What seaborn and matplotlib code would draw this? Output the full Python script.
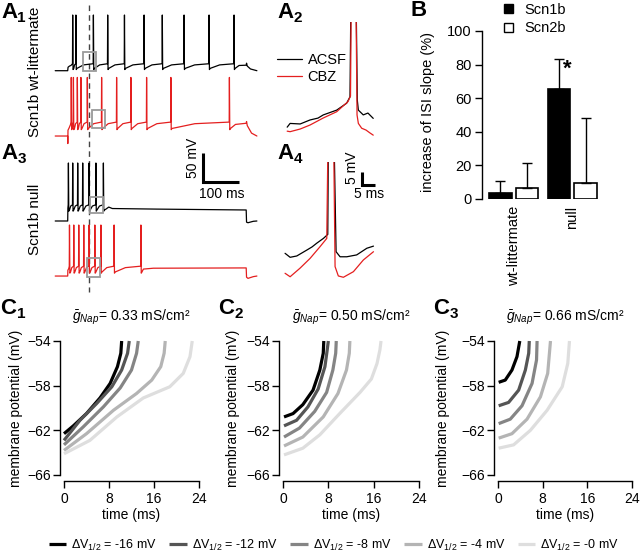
import numpy as np
import pandas as pd
import matplotlib
matplotlib.use("Agg")
import matplotlib.pyplot as plt
import seaborn as sns
from matplotlib.patches import Rectangle, Patch

# ---------------- data ----------------
# A1 / A3: spike times (ms after step onset) of the 500 ms current step
SPK_WT_ACSF = [14, 23, 72, 112, 159, 214, 265, 326, 396, 466]
SPK_WT_CBZ = [10, 16, 27, 37, 55, 95, 137, 177, 221, 289, 453]
SPK_NULL_ACSF = [2, 14, 28, 42, 60, 79, 100]
SPK_NULL_CBZ = [5, 17, 31, 45, 60, 76, 93, 130, 205]

# voltage levels (mV): rest, after-hyperpolarisation, threshold, peak
LEV_WT_ACSF = [-70, -66, -58, 26]
LEV_WT_CBZ = [-70, -57, -46, 31]
LEV_NULL_ACSF = [-70, -51, -42, 30]
LEV_NULL_CBZ = [-70, -63, -53, 18]

ONSET_WT_ACSF = [(1, -64), (5, -62), (9, -61)]
ONSET_WT_CBZ = [(0.3, -83), (0.8, -60), (4, -56), (8, -50)]
ONSET_NULL_ACSF = [(0.5, -48)]
ONSET_NULL_CBZ = [(0.5, -60), (3, -57)]
TAIL_WT_ACSF = [(480, -61), (500, -60.5), (501, -57), (503, -62), (512, -67), (530, -70)]
TAIL_WT_CBZ = [(470, -50), (500, -48), (501, -45), (503, -52), (515, -65), (530, -70)]
TAIL_NULL_ACSF = [(106, -50), (115, -46), (125, -48.5), (250, -49.5), (500, -51),
                  (501, -72), (505, -73), (520, -70.5), (530, -70)]
TAIL_NULL_CBZ = [(212, -58), (240, -56.5), (500, -56), (501, -72), (505, -74),
                 (520, -71), (530, -70)]

# A2 / A4: single spike, time relative to spike (ms) and membrane potential (mV)
A2_ACSF_T = [-24.4, -23.3, -19.5, -15.8, -12.8, -10.8, -5.75, -2.0, -0.75, -0.2, 0.5, 1.3, 2.0, 2.4, 4.25, 6.0, 8.0]
A2_ACSF_V = [-60.2, -58.8, -59.0, -57.5, -56.8, -55.6, -53.8, -51.2, -48.8, 10, 15, 10, -50, -53.8, -55.6, -54.9, -56.9]
A2_CBZ_T = [-24.4, -23.3, -19.5, -15.8, -10.9, -5.75, -1.5, -0.56, -0.1, 0.5, 1.3, 1.9, 2.4, 3.65, 5.3, 6.8, 8.0]
A2_CBZ_V = [-61.7, -61.9, -60.9, -59.4, -56.8, -54.4, -50.6, -48.5, 10, 15, 10, -55.6, -58.8, -60.6, -61.3, -62.4, -63.2]
A4_ACSF_T = [-16.9, -15.0, -12.5, -8.76, -6.77, -5.0, -2.5, -0.86, -0.5, 0.3, 1.1, 2.26, 3.76, 6.28, 10.0, 13.8, 16.3]
A4_ACSF_V = [-55.0, -56.5, -56.0, -53.8, -52.6, -51.2, -49.4, -47.9, 10, 15, 10, -54.4, -56.3, -56.3, -55.6, -53.1, -52.3]
A4_CBZ_T = [-16.9, -15.0, -11.3, -7.5, -3.76, -1.24, -0.5, 0.3, 1.1, 1.88, 3.1, 5.0, 8.76, 12.5, 16.3]
A4_CBZ_V = [-62.5, -63.8, -60.6, -56.9, -52.5, -49.4, 10, 15, 10, -60.0, -63.5, -64.0, -61.9, -57.5, -54.4]

# B: increase of ISI slope (%)
B_GROUPS = ["wt-littermate", "null"]
B_GENES = ["Scn1b", "Scn2b"]
B_MEAN_SCN1B = [3.4, 65.5]
B_MEAN_SCN2B = [6.7, 9.3]
B_ERR_SCN1B = [7.5, 17.6]
B_ERR_SCN2B = [14.5, 38.7]

# C: model traces, one list per dV1/2 shift (-16, -12, -8, -4, -0 mV)
SHIFTS = ["-16", "-12", "-8", "-4", "-0"]
GNAP = ["0.33", "0.50", "0.66"]
C1_T = [[0, 1.66, 4.0, 6.4, 8.2, 9.5, 10.1, 10.25],
        [0, 2.84, 5.8, 8.5, 10.25, 11.3, 11.6],
        [0, 3.4, 7.0, 10.0, 12.0, 12.9, 13.2],
        [0, 4.0, 8.8, 12.9, 15.6, 17.2, 17.8, 18.0],
        [0, 4.6, 9.4, 14.1, 18.8, 21.2, 22.4, 22.8]]
C1_V = [[-62.3, -61.6, -60.5, -59.1, -57.8, -56.3, -55.1, -54],
        [-62.9, -61.1, -59.6, -58.1, -56.6, -55.1, -54],
        [-63.3, -61.7, -59.9, -58.2, -56.6, -55.1, -54],
        [-63.8, -62.3, -60.2, -58.7, -57.5, -56.3, -55.1, -54],
        [-64.1, -62.9, -60.8, -59.1, -58.1, -56.9, -55.4, -54]]
C2_T = [[0.18, 1.77, 3.5, 5.3, 6.5, 7.1, 7.2],
        [0.18, 2.4, 4.4, 6.2, 7.4, 7.8, 8.0],
        [0.18, 2.9, 5.6, 7.7, 8.8, 9.3, 9.4],
        [0.18, 3.5, 7.1, 9.7, 11.2, 11.7, 11.8],
        [0.18, 3.5, 6.5, 10.0, 13.6, 15.6, 16.6, 17.1, 17.3]]
C2_V = [[-60.8, -60.5, -59.7, -58.4, -56.6, -55.1, -54],
        [-61.6, -61.1, -59.9, -58.3, -56.3, -54.8, -54],
        [-62.6, -61.8, -60.3, -58.6, -56.6, -55.1, -54],
        [-63.4, -62.6, -60.8, -58.7, -56.6, -55.1, -54],
        [-64.2, -63.6, -62.4, -60.5, -58.6, -57.4, -56.0, -54.8, -54]]
C3_T = [[0.12, 1.3, 2.5, 3.4, 3.9],
        [0.12, 1.9, 3.7, 4.9, 5.5, 5.6],
        [0.12, 2.2, 4.3, 6.1, 6.9, 7.0],
        [0.12, 2.5, 5.2, 7.6, 8.9, 9.4],
        [0.12, 2.8, 5.8, 8.8, 11.5, 12.5, 12.8]]
C3_V = [[-57.7, -57.5, -56.6, -55.4, -54],
        [-59.8, -59.5, -58.4, -56.6, -55.1, -54],
        [-61.4, -61.0, -59.8, -57.8, -55.7, -54],
        [-62.7, -62.3, -61.0, -59.0, -56.9, -54],
        [-63.6, -63.3, -62.0, -60.2, -58.1, -56.0, -54]]

# ---------------- style ----------------
sns.set_theme(style="ticks")
plt.rcParams.update({
    "font.family": ["Liberation Sans", "DejaVu Sans"],
    "mathtext.fontset": "custom",
    "mathtext.rm": "Liberation Sans",
    "mathtext.it": "Liberation Sans:italic",
    "mathtext.bf": "Liberation Sans:bold",
    "axes.edgecolor": "black", "axes.labelcolor": "black", "text.color": "black",
    "xtick.color": "black", "ytick.color": "black",
    "axes.linewidth": 1.0,
    "xtick.major.size": 5, "ytick.major.size": 5,
    "xtick.major.width": 1, "ytick.major.width": 1,
})
RED = "#e41f1f"
GREYS = ["#000000", "#555555", "#858585", "#b4b4b4", "#dedede"]

fig = plt.figure(figsize=(6.4, 5.53), dpi=100)


def fx(px):
    return px / 640


def fy(py):
    return 1 - py / 553


def add_ax(l, t, r, b):
    return fig.add_axes([fx(l), fy(b), (r - l) / 640, (b - t) / 553])


def panel_label(px, py, letter, sub=None):
    fig.text(fx(px), fy(py), letter, fontsize=16, fontweight="bold", va="top", ha="left")
    if sub:
        fig.text(fx(px + 16.5), fy(py + 9), sub, fontsize=11, fontweight="bold", va="top", ha="left")


def build_trace(spikes, levels, onset, tail):
    rest, ahp, thr, peak = levels
    t, v = [-35, 0], [rest, rest]
    for a, b in onset:
        t.append(a); v.append(b)
    for i, s in enumerate(spikes):
        t += [s - 0.6, s, s + 1.0, s + 3.0]
        v += [thr, peak, ahp - 2, ahp]
        if i + 1 < len(spikes):
            gap = spikes[i + 1] - s
            t.append(s + 3 + 0.4 * (gap - 3.6))
            v.append(thr - 0.25 * (thr - ahp))
    for a, b in tail:
        t.append(a); v.append(b)
    return np.array(t, float), np.array(v, float)


# ---------------- A1 / A3 ----------------
axA = add_ax(40, 0, 270, 300)
axA.set_xlim(-77.6, 566.7)
axA.set_ylim(-517.2, 0)
axA.axis("off")
axA.plot([60.5, 60.5], [-8.6, -503], color="#444444", lw=1, ls=(0, (4, 3)))

traces = [
    (SPK_WT_ACSF, LEV_WT_ACSF, ONSET_WT_ACSF, TAIL_WT_ACSF, -51.9, "black"),
    (SPK_WT_CBZ, LEV_WT_CBZ, ONSET_WT_CBZ, TAIL_WT_CBZ, -164.5, RED),
    (SPK_NULL_ACSF, LEV_NULL_ACSF, ONSET_NULL_ACSF, TAIL_NULL_ACSF, -311, "black"),
    (SPK_NULL_CBZ, LEV_NULL_CBZ, ONSET_NULL_CBZ, TAIL_NULL_CBZ, -405.9, RED),
]
for spk, lev, ons, tail, off, col in traces:
    t, v = build_trace(spk, lev, ons, tail)
    sns.lineplot(x=t, y=v + off, ax=axA, color=col, lw=0.9, estimator=None, sort=False)

for x0, y0, w, h in [(42, -122, 37, 33), (67, -220.7, 37.5, 31),
                     (62.5, -368, 35.5, 29), (55, -477.6, 35.5, 32.6)]:
    axA.add_patch(Rectangle((x0, y0), w, h, fill=False, ec="#9a9a9a", lw=1.3, zorder=5))

# scale bar 50 mV / 100 ms
axA.plot([379, 379, 479], [-263.8, -313.8, -313.8], color="black", lw=2.2,
         solid_joinstyle="miter", solid_capstyle="butt")
axA.text(351, -271.6, "50 mV", rotation=90, ha="center", va="center", fontsize=10)
axA.text(431, -334.5, "100 ms", ha="center", va="center", fontsize=10)

fig.text(fx(35), fy(72), "Scn1b wt-littermate", rotation=90, ha="center", va="center", fontsize=11)
fig.text(fx(35), fy(219), "Scn1b null", rotation=90, ha="center", va="center", fontsize=11)

# ---------------- A2 / A4 ----------------
axA2 = add_ax(280, 21.7, 382, 145)
axA2.set_xlim(-27.1, 11.3)
axA2.set_ylim(-66.9, -20.6)
axA2.axis("off")
sns.lineplot(x=A2_ACSF_T, y=A2_ACSF_V, ax=axA2, color="black", lw=0.9, estimator=None, sort=False)
sns.lineplot(x=A2_CBZ_T, y=A2_CBZ_V, ax=axA2, color=RED, lw=0.9, estimator=None, sort=False)
axA2.legend(handles=axA2.get_lines()[:2], labels=["ACSF", "CBZ"], loc="upper left",
            bbox_to_anchor=(fx(277), fy(53)), bbox_transform=fig.transFigure,
            frameon=False, fontsize=10.5, handlelength=1.7, handletextpad=0.4,
            labelspacing=0.2, borderpad=0, borderaxespad=0)

axA4 = add_ax(280, 161.7, 382, 285)
axA4.set_xlim(-18.8, 19.5)
axA4.set_ylim(-66.9, -20.6)
axA4.axis("off")
sns.lineplot(x=A4_ACSF_T, y=A4_ACSF_V, ax=axA4, color="black", lw=0.9, estimator=None, sort=False)
sns.lineplot(x=A4_CBZ_T, y=A4_CBZ_V, ax=axA4, color=RED, lw=0.9, estimator=None, sort=False)
axA4.plot([11.9, 11.9, 16.9], [-24.3, -29.3, -29.3], color="black", lw=2.2,
          solid_joinstyle="miter", solid_capstyle="butt", clip_on=False)
fig.text(fx(352), fy(168), "5 mV", rotation=90, ha="center", va="center", fontsize=10)
fig.text(fx(369), fy(194), "5 ms", ha="center", va="center", fontsize=10)

# ---------------- B ----------------
axB = add_ax(481.7, 31, 604, 199)
df_b = pd.DataFrame({
    "group": B_GROUPS * 2,
    "gene": [B_GENES[0]] * 2 + [B_GENES[1]] * 2,
    "value": B_MEAN_SCN1B + B_MEAN_SCN2B,
})
sns.barplot(data=df_b, x="group", y="value", hue="gene", order=B_GROUPS, hue_order=B_GENES,
            palette={"Scn1b": "black", "Scn2b": "white"}, edgecolor="black", linewidth=1.2,
            width=0.91, gap=0.15, errorbar=None, legend=False, ax=axB)
for cont, errs in zip(axB.containers, [B_ERR_SCN1B, B_ERR_SCN2B]):
    for bar, e in zip(cont, errs):
        xc = bar.get_x() + bar.get_width() / 2
        axB.errorbar(xc, bar.get_height(), yerr=[[0], [e]], fmt="none", ecolor="black",
                     elinewidth=1, capsize=3.5, capthick=1, zorder=1)
axB.text(0.91, 77.2, "*", ha="center", va="center", fontsize=16, fontweight="bold")
axB.set_xlim(-0.544, 1.543)
axB.set_ylim(0, 100)
axB.set_yticks([0, 20, 40, 60, 80, 100])
axB.tick_params(axis="y", labelsize=10.5, pad=2)
axB.tick_params(axis="x", length=0, labelsize=10.5, pad=5, labelrotation=90)
axB.set_xlabel("")
axB.set_ylabel("")
sns.despine(ax=axB, bottom=True)
fig.text(fx(428), fy(112), "increase of ISI slope (%)", rotation=90, ha="center", va="center", fontsize=10.5)
axB.legend(handles=[Patch(fc="black", ec="black", lw=1), Patch(fc="white", ec="black", lw=1)],
           labels=B_GENES, loc="upper left", bbox_to_anchor=(fx(504), fy(3)),
           bbox_transform=fig.transFigure, frameon=False, fontsize=10.5,
           handlelength=0.6, handleheight=0.6, handletextpad=0.8, labelspacing=0.3,
           borderpad=0, borderaxespad=0)

# ---------------- C ----------------
c_boxes = [(64, 199), (283, 419), (498, 632)]
c_data = [(C1_T, C1_V), (C2_T, C2_V), (C3_T, C3_V)]
c_ylabel_x = [16, 233, 443]
for k, ((l, r), (ts, vs)) in enumerate(zip(c_boxes, c_data)):
    ax = add_ax(l, 341, r, 475)
    rows = []
    for s, tt, vv in zip(SHIFTS, ts, vs):
        rows += [{"t": a, "V": b, "shift": s} for a, b in zip(tt, vv)]
    df_c = pd.DataFrame(rows)
    sns.lineplot(data=df_c, x="t", y="V", hue="shift", hue_order=SHIFTS, palette=GREYS,
                 estimator=None, sort=False, lw=2.3, legend=False, ax=ax)
    for ln in ax.get_lines():
        ln.set_clip_on(False)
        ln.set_solid_capstyle("butt")
    ax.set_xlim(0, 24)
    ax.set_ylim(-66, -54)
    ax.set_xticks([0, 8, 16, 24])
    ax.set_yticks([-66, -62, -58, -54])
    ax.tick_params(axis="y", labelsize=10, pad=1.5)
    ax.tick_params(axis="x", labelsize=10, pad=3)
    ax.set_xlabel("")
    ax.set_ylabel("")
    sns.despine(ax=ax, offset={"left": 3, "bottom": 4.3})
    ax.text(0.5, 1.18, r"$\bar{g}_{Nap}$= " + GNAP[k] + " mS/cm²", transform=ax.transAxes,
            ha="center", va="center", fontsize=10)
    fig.text(fx((l + r) / 2), fy(515), "time (ms)", ha="center", va="center", fontsize=10)
    fig.text(fx(c_ylabel_x[k]), fy(408), "membrane potential (mV)", rotation=90,
             ha="center", va="center", fontsize=10)
    if k == 0:
        legend_lines = ax.get_lines()[:5]

fig.legend(handles=legend_lines, labels=["ΔV$_{1/2}$ = " + s + " mV" for s in SHIFTS],
           loc="center", bbox_to_anchor=(fx(334), fy(545)), ncol=5, frameon=False,
           fontsize=9, handlelength=1.4, handletextpad=0.4, columnspacing=1.0)

# ---------------- panel labels ----------------
panel_label(1, 2, "A", "1")
panel_label(277, 2, "A", "2")
panel_label(1, 143, "A", "3")
panel_label(277, 143, "A", "4")
panel_label(411, 0, "B")
panel_label(0, 298, "C", "1")
panel_label(218, 298, "C", "2")
panel_label(433, 298, "C", "3")

fig.savefig("out.png", dpi=100)
